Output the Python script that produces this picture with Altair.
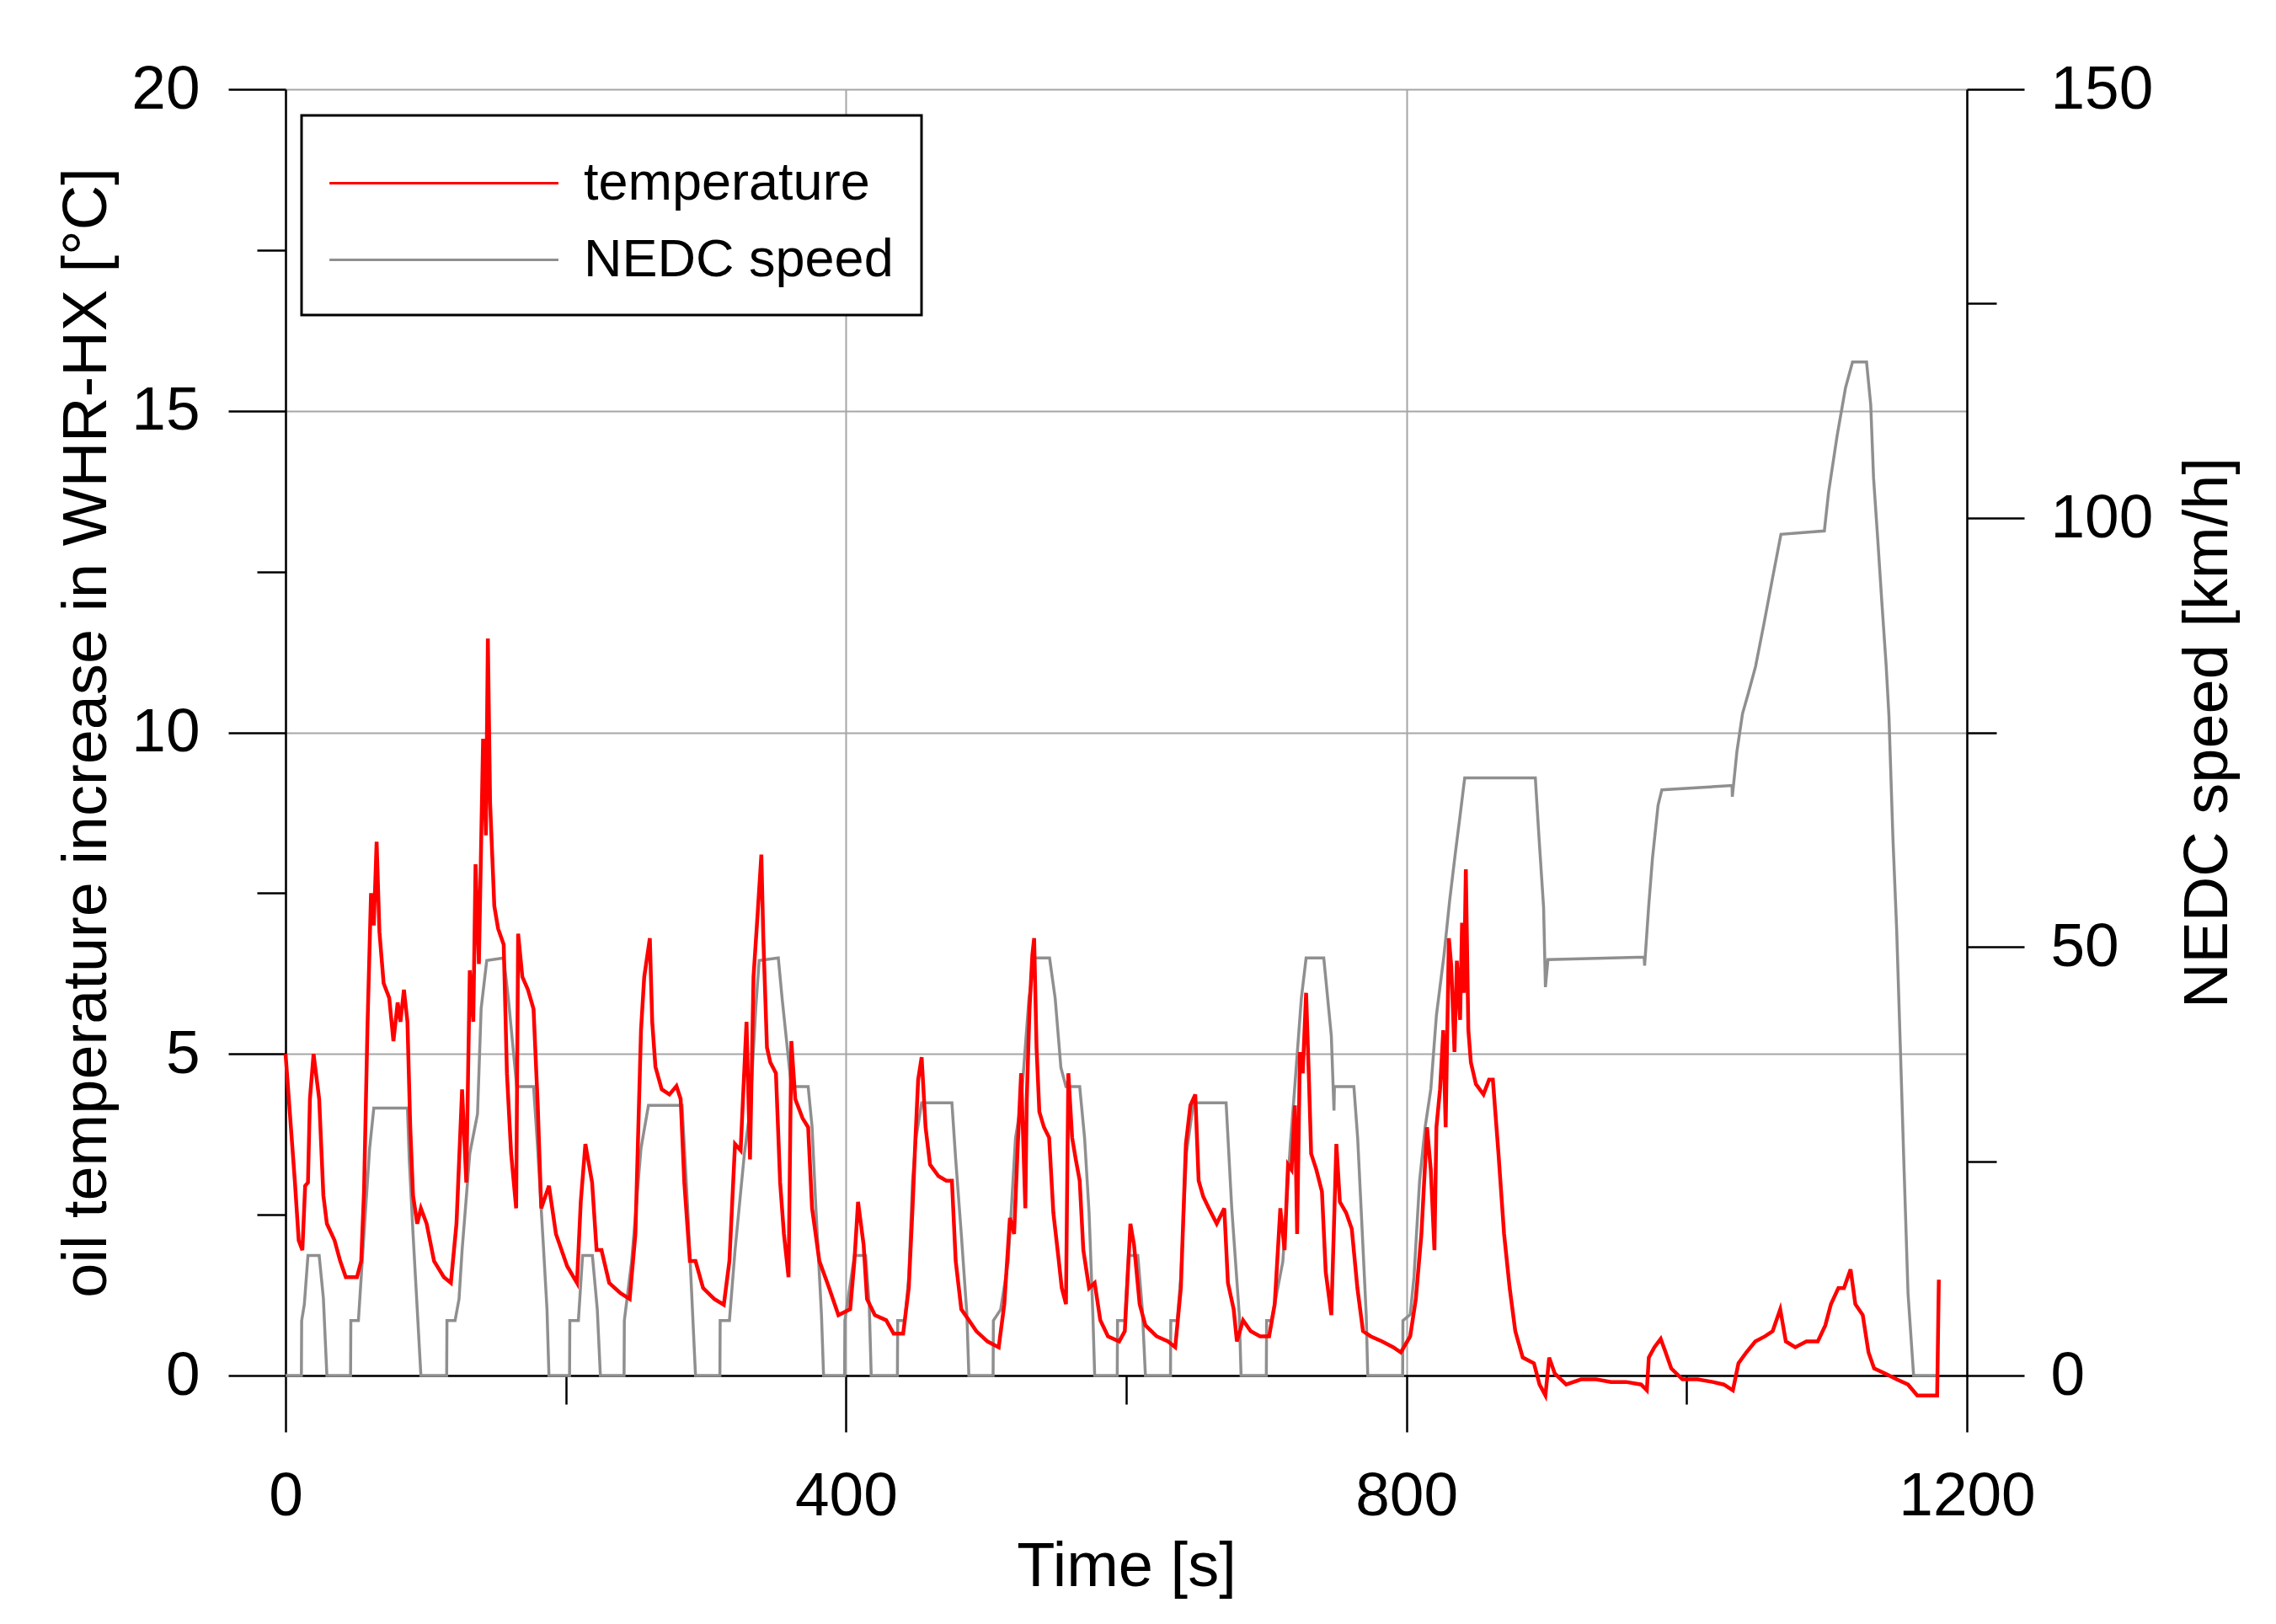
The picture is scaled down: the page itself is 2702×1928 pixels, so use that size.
import altair as alt
import pandas as pd

# ---------------- data ----------------
# oil temperature increase in WHR-HX [°C] vs time [s]
TEMP_TIME = [
    0, 6.7, 9.4, 12, 14, 16, 17.4, 20, 24, 27, 29.5, 35, 39, 43, 51, 54, 56, 58.5, 61, 63,
    65, 67, 70, 74, 77, 80, 82, 84.5, 87, 89, 91, 94, 96.6, 100.7, 106, 113, 118, 122, 126, 129,
    131.5, 134, 135.6, 138, 141, 143, 144.4, 146, 149, 151.7, 155.7, 158, 161, 164.6, 166, 169,
    173, 177, 180, 182.5, 188, 193, 201, 208, 210.7, 214, 218.8, 222, 225.5, 231, 239, 245.6,
    249.7, 253.7, 256, 260, 261.7, 264, 268.5, 274, 279, 282, 284.6, 288.6, 292.6, 298, 306,
    312.8, 316.8, 320.8, 324.8, 329, 331.5, 334, 337, 339.6, 341, 343.6, 346, 350, 353, 355.7,
    359, 361, 363.8, 369, 373, 375.8, 381, 388, 394.6,
    403, 406, 408.6, 412.6, 415, 420.6, 428.7, 434, 440.8, 444.8, 447.5, 449.6, 451.5, 454,
    456.8, 460, 466, 471.6, 475.6, 478.3, 482.3, 487.7, 493, 501, 509, 513, 517, 520, 522.5,
    525, 528, 529, 531, 533, 534.3, 536, 538, 541.3, 545, 548, 551.5, 554, 557, 558.7, 561.4,
    564, 566.8, 569.4, 573.5, 577.5, 581.5, 587, 595, 599, 603, 605.6, 609.6, 613.7, 621.7,
    629.8, 635, 639, 642.6, 645.8, 649.3, 651.7, 655, 659, 664.6, 670, 672.6, 676.7, 679, 683.4,
    688.8, 695.5, 702, 706, 710, 713, 715.5, 718, 720.4, 722, 724, 726, 728.4, 730.3, 732,
    735.7, 739.7, 742.4, 746.4, 750, 752.5, 757, 761, 765, 769, 774.5, 782.6, 790.6, 796,
    802.7, 806.7, 810.7, 814.7, 817.4, 820, 821.4, 824, 826.3, 828, 830.3, 832, 834.3, 836,
    838.3, 839.7, 841, 842.4, 844.2, 846, 849.6, 855, 859, 861.7, 865.7, 869.7, 873.7, 877.7,
    883, 891, 895, 899.2, 901.9, 905.9, 914, 924.7, 935.4, 946, 956.8, 967.5, 971.6, 973, 977,
    981.5, 985, 989, 997, 1007.8, 1018.5, 1026.5, 1033, 1037, 1042.6, 1049, 1056, 1061.4,
    1066.8, 1070.8, 1077.5, 1085.5, 1093.6, 1099, 1103, 1108.3, 1112.3, 1117, 1120.4, 1125.7,
    1129.8, 1133.8, 1141.8, 1149.9, 1158, 1164.6, 1171.3, 1178.8, 1180,
]
TEMP_VALUE = [
    5.0, 3.0, 2.1, 1.95, 2.95, 3.0, 4.3, 5.0, 4.3, 2.8, 2.36, 2.1, 1.78, 1.53, 1.53, 1.78, 2.86, 5.45, 7.5, 7.0,
    8.3, 6.9, 6.1, 5.87, 5.2, 5.8, 5.5, 6.0, 5.5, 3.86, 2.8, 2.36, 2.6, 2.36, 1.78, 1.53, 1.44, 2.36, 4.45, 3.0,
    6.3, 5.5, 7.95, 6.4, 9.9, 8.4, 11.46, 8.9, 7.3, 6.95, 6.7, 4.7, 3.45, 2.6, 6.87, 6.2,
    6.0, 5.7, 4.2, 2.6, 2.95, 2.2, 1.7, 1.44, 2.7, 3.6, 3.0, 1.95, 1.95, 1.44, 1.28, 1.19,
    2.2, 5.37, 6.2, 6.8, 5.5, 4.8, 4.45, 4.37, 4.5, 4.3, 3.0, 1.78, 1.78, 1.36, 1.19,
    1.1, 1.78, 3.6, 3.5, 5.5, 3.36, 6.2, 7.2, 8.1, 6.8, 5.1, 4.87, 4.7, 3.0, 2.2,
    1.53, 5.2, 4.3, 4.0, 3.86, 2.6, 1.78, 1.36, 0.94,
    1.03, 1.78, 2.7, 2.03, 1.19, 0.94, 0.86, 0.65, 0.65, 1.36, 2.6, 3.7, 4.6, 4.95,
    3.86, 3.28, 3.1, 3.03, 3.03, 1.78, 1.03, 0.86, 0.69, 0.53, 0.44, 1.11, 2.45, 2.2, 3.53,
    4.7, 2.6, 4.28, 5.7, 6.54, 6.8, 5.1, 4.1, 3.86, 3.7, 2.53, 1.86, 1.36, 1.11, 4.7, 3.7,
    3.36, 3.03, 1.95, 1.36, 1.44, 0.86, 0.61, 0.53, 0.69, 2.36, 2.03, 1.11, 0.78, 0.61,
    0.53, 0.44, 1.36, 3.6, 4.2, 4.37, 3.03, 2.78, 2.6, 2.36, 2.6, 1.44, 1.03, 0.53, 0.86,
    0.69, 0.61, 0.61, 1.11, 2.6, 1.95, 3.28, 3.2, 4.2, 2.2, 5.03, 4.7, 5.95, 4.7, 3.45,
    3.2, 2.86, 1.61, 0.94, 3.6, 2.7, 2.53, 2.28, 1.36, 0.69, 0.61, 0.53, 0.44, 0.36,
    0.61, 1.19, 2.2, 3.86, 3.2, 1.95, 3.86, 4.45, 5.37, 3.86, 6.8, 6.37, 5.03, 6.45,
    5.53, 7.04, 5.95, 7.87, 5.37, 4.87, 4.53, 4.37, 4.6, 4.6, 3.45, 2.2, 1.36, 0.69,
    0.28, 0.19, -0.14, -0.31, 0.28, 0.03, -0.14, -0.06, -0.06, -0.1, -0.1, -0.14, -0.23, 0.28, 0.44,
    0.57, 0.36, 0.11, -0.06, -0.06, -0.1, -0.14, -0.23, 0.19, 0.36, 0.53, 0.61, 0.69,
    1.03, 0.53, 0.44, 0.53, 0.53, 0.78, 1.11, 1.36, 1.36, 1.65, 1.11, 0.94,
    0.36, 0.11, 0.03, -0.06, -0.14, -0.31, -0.31, -0.31, 1.49,
]

# NEDC speed [km/h] vs time [s]
SPEED_TIME = [
    0, 11.3, 11.5, 13.4, 16, 24, 27, 29.5,
    46.4, 46.6, 52, 54.7, 60, 63, 87, 88.3, 91, 94, 96.6,
    115, 115.2, 121, 123.8, 126, 131.5, 137, 139.6, 143.6, 155.7, 159, 165, 177, 179.7, 184, 186.6, 188,
    202.7, 202.9, 209, 212, 219, 222.5, 224.7,
    241.6, 241.8, 247, 253.7, 259, 283, 287, 292.6,
    310, 310.2, 316.8, 320.8, 327.5, 331.5, 335.6, 338, 351.7, 354.4, 361, 373, 375.8, 378.5, 382.5, 384,
    399, 399.2, 406, 414, 416.6, 418,
    436.7, 436.9, 442, 444.8, 447.5, 450, 454, 475.6, 478.3, 482.3, 486.3, 487.7,
    505, 505.2, 510.4, 515.8, 521, 525, 530.6, 534.6, 545.3, 549.3, 553.4, 557, 566.8, 570.3, 573.5, 576.2, 577.5,
    593.6, 593.8, 599, 601.6, 608.3, 611.5, 613.7,
    631.6, 631.8, 636.4, 639, 643, 648, 671.3, 675.3, 680.7, 682,
    700, 700.2, 703.7, 711.8, 717.2, 719.6, 725, 728.4, 741, 746.4, 748.3, 748.6, 762.5, 765.2, 767.8, 771.3, 772.4,
    797.3, 797.5, 802.7, 805.4, 809.4, 813.4, 817.4, 821.4, 826.8, 830.8, 834.9, 838.3, 841.6,
    892, 894.6, 897.9, 899.2, 901,
    969.7, 970, 972.9, 975.6, 979.6, 982.3,
    1032.4, 1032.6, 1035.9, 1039.9, 1043.9, 1049.2, 1055.2, 1061.2, 1067.3,
    1098.3, 1101.3, 1107.4, 1113.4, 1118.4,
    1128.4, 1131.4, 1133.4, 1136.4, 1139.4, 1142.4, 1144.4, 1147.2, 1149.9, 1152.5, 1155.2, 1158, 1162, 1180,
]
SPEED_VALUE = [
    0, 0, 6.4, 8.3, 14, 14, 9, 0,
    0, 6.4, 6.4, 13.3, 26.5, 31.2, 31.2, 25.2, 16.5, 7.7, 0,
    0, 6.4, 6.4, 8.9, 14.6, 25.9, 30.5, 42.8, 48.4, 48.7, 44, 33.7, 33.7, 27.1, 15.2, 7.7, 0,
    0, 6.4, 6.4, 14, 14, 7.7, 0,
    0, 6.4, 13.3, 26.5, 31.5, 31.5, 19.6, 0,
    0, 6.4, 6.4, 14.6, 25.9, 30.9, 42.8, 48.4, 48.7, 44, 33.7, 33.7, 29, 19.6, 7.1, 0,
    0, 6.4, 14, 14, 8.3, 0,
    0, 6.4, 6.4, 11.5, 22.7, 27.7, 31.8, 31.8, 25.2, 16.5, 7.1, 0,
    0, 6.4, 7.7, 13.3, 27.7, 31.8, 44, 48.7, 48.7, 44, 35.9, 33.7, 33.7, 27.7, 19, 7.1, 0,
    0, 6.4, 6.4, 14, 14, 7.7, 0,
    0, 6.4, 6.4, 11.5, 25.9, 31.8, 31.8, 19.6, 7.1, 0,
    0, 6.4, 6.4, 13.3, 27.1, 32.1, 44, 48.7, 48.7, 39.6, 30.9, 33.7, 33.7, 27.7, 19, 7.1, 0,
    0, 6.4, 7.1, 11.5, 22.7, 29, 33.4, 42, 49, 55.3, 60.9, 65.3, 69.7,
    69.7, 62.8, 54.6, 45.3, 48.5,
    48.8, 47.8, 54.7, 60.3, 66.5, 68.3,
    68.8, 67.5, 72.8, 77.2, 79.5, 82.7, 87.7, 92.9, 98.1,
    98.5, 103, 109.6, 115.2, 118.2,
    118.2, 113.2, 104.7, 97.5, 90, 82.8, 76.9, 62.8, 52, 38.4, 24, 9.6, 0, 0,
]

SERIES = ["temperature", "NEDC speed"]
SERIES_COLORS = ["#ff0000", "#8f8f8f"]
X_TICKS = [0, 200, 400, 600, 800, 1000, 1200]
Y_TICKS = [0, 2.5, 5, 7.5, 10, 12.5, 15, 17.5, 20]
Y2_TICKS = [0, 25, 50, 75, 100, 125, 150]

FONT = "Liberation Sans, Arial, sans-serif"

temp_df = pd.DataFrame(
    [{"time": t, "value": v, "series": SERIES[0]} for t, v in zip(TEMP_TIME, TEMP_VALUE)]
)
speed_df = pd.DataFrame(
    [{"time": t, "value": v, "series": SERIES[1]} for t, v in zip(SPEED_TIME, SPEED_VALUE)]
)


def cond(test, a, b):
    return {"condition": {"test": test, "value": a}, "value": b}


x_enc = alt.X(
    "time:Q",
    scale=alt.Scale(domain=[0, 1200], nice=False),
    axis=alt.Axis(
        values=X_TICKS,
        format="d",
        title="Time [s]",
        labelExpr="datum.value % 400 === 0 ? datum.label : ''",
        tickSize=cond("datum.value % 400 === 0", 67, 34),
        grid=True,
        gridOpacity=cond("datum.value % 400 === 0", 1, 0),
        labelPadding=40,
        labelFlush=False,
        labelOverlap=False,
        labelLimit=1000,
        titleY=249,
        titleBaseline="alphabetic",
    ),
)

color_enc = alt.Color(
    "series:N",
    scale=alt.Scale(domain=SERIES, range=SERIES_COLORS),
    legend=alt.Legend(
        orient="none",
        legendX=19,
        legendY=31,
        title=None,
        direction="vertical",
        symbolType="M-1.03,0H4.88",
        symbolSize=8464,
        symbolStrokeWidth=3,
        labelFontSize=63,
        labelFont=FONT,
        labelColor="black",
        labelOffset=207,
        labelLimit=1000,
        rowPadding=11,
        padding=33,
        strokeColor="black",
        fillColor="white",
    ),
)

speed = alt.Chart(speed_df).mark_line(strokeWidth=3.5).encode(
    x=x_enc,
    y=alt.Y(
        "value:Q",
        scale=alt.Scale(domain=[0, 150], nice=False),
        axis=alt.Axis(
            orient="right",
            values=Y2_TICKS,
            format="d",
            title="NEDC speed [km/h]",
            labelExpr="datum.value % 50 === 0 ? datum.label : ''",
            tickSize=cond("datum.value % 50 === 0", 68, 35),
            grid=False,
            labelPadding=31,
            labelFlush=False,
            labelOverlap=False,
            labelLimit=1000,
            titleAngle=270,
            titleX=286,
            titleY=763.5,
            titleAlign="center",
            titleBaseline="middle",
        ),
    ),
    color=color_enc,
)

temp = alt.Chart(temp_df).mark_line(strokeWidth=4.5).encode(
    x=x_enc,
    y=alt.Y(
        "value:Q",
        scale=alt.Scale(domain=[0, 20], nice=False),
        axis=alt.Axis(
            orient="left",
            values=Y_TICKS,
            title="oil temperature increase in WHR-HX [°C]",
            labelExpr="datum.value % 5 === 0 ? datum.label : ''",
            tickSize=cond("datum.value % 5 === 0", 68, 34),
            grid=True,
            gridOpacity=cond("datum.value % 5 === 0", 1, 0),
            labelPadding=34,
            labelFlush=False,
            labelOverlap=False,
            labelLimit=1000,
            titleAngle=270,
            titleX=-236,
            titleY=763.5,
            titleAlign="center",
            titleBaseline="middle",
        ),
    ),
    color=color_enc,
)

chart = (
    alt.layer(speed, temp)
    .resolve_scale(y="independent")
    .properties(
        width=1996,
        height=1527,
        padding={"left": 331, "top": 98, "right": 359, "bottom": 287},
        autosize=alt.AutoSizeParams(type="none"),
        background="white",
    )
    .configure_view(strokeWidth=0)
    .configure_axis(
        labelFont=FONT,
        titleFont=FONT,
        labelFontSize=73,
        titleFontSize=74,
        titleFontWeight="normal",
        labelColor="black",
        titleColor="black",
        domainColor="black",
        domainWidth=2.5,
        tickColor="black",
        tickWidth=2.5,
        gridColor="#a6a6a6",
        gridWidth=2,
    )
    .configure_legend(strokeWidth=3)
)

chart.save("out.html", embed_options={"renderer": "svg", "actions": False})
